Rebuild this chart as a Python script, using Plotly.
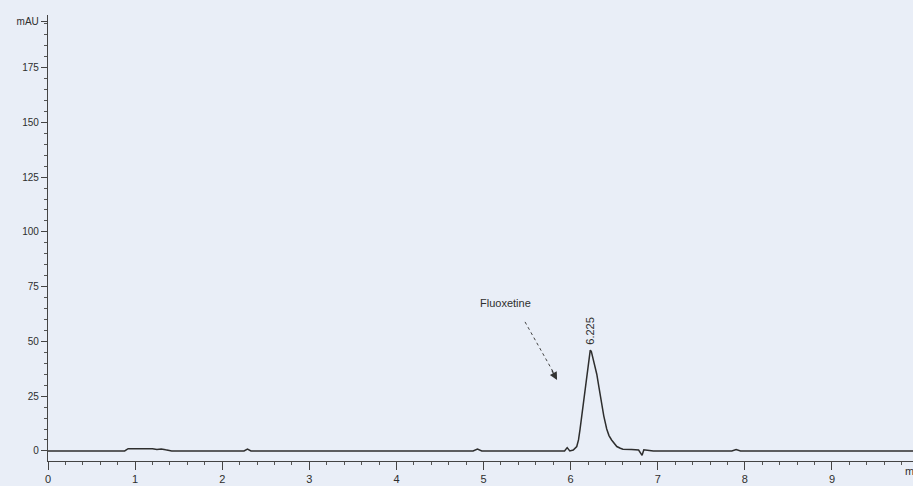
import plotly.graph_objects as go

# Chromatogram trace (retention time in min, absorbance in mAU)
time_min = [0.0, 0.88, 0.92, 1.00, 1.10, 1.20, 1.25, 1.30, 1.35, 1.42,
            2.25, 2.29, 2.33, 4.88, 4.93, 4.98,
            5.93, 5.96, 5.99, 6.03, 6.07, 6.09, 6.108, 6.127, 6.146, 6.165,
            6.185, 6.20, 6.213, 6.225, 6.237, 6.25, 6.27, 6.30, 6.325, 6.35,
            6.38, 6.414, 6.44, 6.47, 6.50, 6.53, 6.57, 6.60, 6.70, 6.78,
            6.82, 6.84, 6.88, 6.95, 7.85, 7.90, 7.95, 9.93]
signal_mau = [0.0, 0.0, 1.0, 1.0, 0.8, 1.0, 0.6, 0.9, 0.5, 0.0,
              0.0, 0.8, 0.0, 0.0, 0.8, 0.0,
              0.0, 1.5, 0.0, 0.4, 2.0, 5.0, 10.0, 16.0, 23.0, 29.5,
              35.0, 40.5, 44.5, 46.0, 45.5, 43.5, 40.0, 35.0, 29.0, 23.0,
              16.0, 10.0, 7.0, 5.0, 3.2, 2.0, 1.2, 0.8, 0.6, 0.4,
              -2.0, 0.5, 0.3, 0.0, 0.0, 0.6, 0.0, 0.0]

x_ticks = [0, 1, 2, 3, 4, 5, 6, 7, 8, 9]
y_ticks = [0, 25, 50, 75, 100, 125, 150, 175, 196]
y_tick_text = ["0", "25", "50", "75", "100", "125", "150", "175", "mAU"]

peak_name = "Fluoxetine"
peak_rt = 6.225
peak_height = 46.0

BG = "#e9eef7"
INK = "#2e2e2e"
FONT = "Liberation Sans Narrow, Liberation Sans, Arial, sans-serif"

fig = go.Figure()
fig.add_trace(go.Scatter(
    x=time_min, y=signal_mau, mode="lines",
    line=dict(color=INK, width=1.5, shape="linear"),
    hoverinfo="skip", showlegend=False,
))

# retention time label above peak
fig.add_annotation(x=peak_rt, y=peak_height + 9, text=f"{peak_rt:.3f}",
                   textangle=-90, showarrow=False,
                   font=dict(family=FONT, size=11, color=INK))

# compound name
fig.add_annotation(x=5.25, y=67.5, text=peak_name, showarrow=False,
                   font=dict(family="Liberation Sans, Arial, sans-serif", size=11, color=INK))

# dotted pointer line and arrow head
fig.add_shape(type="line", x0=5.476, y0=58.9, x1=5.80, y1=36.0,
              line=dict(color="#444", width=1, dash="dot"))
fig.add_annotation(x=5.844, y=32.4, ax=-6, ay=-11, axref="pixel", ayref="pixel",
                   text="", showarrow=True, arrowhead=2, arrowsize=1.3,
                   arrowwidth=1.2, arrowcolor="#333")

# "min" unit at the right end of the time axis (cut by the page edge)
fig.add_annotation(xref="paper", yref="paper", x=1.0, y=0, xshift=-10, yshift=-18,
                   text="min", showarrow=False, xanchor="left",
                   font=dict(family=FONT, size=11, color=INK))

fig.update_layout(
    width=913, height=486,
    margin=dict(l=48, r=0, t=15, b=25),
    paper_bgcolor=BG, plot_bgcolor=BG,
    showlegend=False,
    font=dict(family=FONT, size=11, color=INK),
    xaxis=dict(range=[0, 9.93], tickvals=x_ticks, showgrid=False, zeroline=False,
               showline=True, linecolor="#444", linewidth=1.3,
               ticks="outside", ticklen=8, tickwidth=1, tickcolor="#444",
               minor=dict(ticks="outside", dtick=0.2, ticklen=3, tickcolor="#555"),
               tickfont=dict(family=FONT, size=11, color=INK)),
    yaxis=dict(range=[-4.6, 199], tickvals=y_ticks, ticktext=y_tick_text,
               showgrid=False, zeroline=False,
               showline=True, linecolor="#444", linewidth=1.3,
               ticks="outside", ticklen=6, tickwidth=1, tickcolor="#444",
               minor=dict(ticks="outside", dtick=5, ticklen=3, tickcolor="#555"),
               tickfont=dict(family=FONT, size=10, color=INK)),
)

fig.write_html(
    "out.html",
    config={"displayModeBar": False},
    post_script="document.body.style.margin='0';document.body.style.background='" + BG + "';",
)
